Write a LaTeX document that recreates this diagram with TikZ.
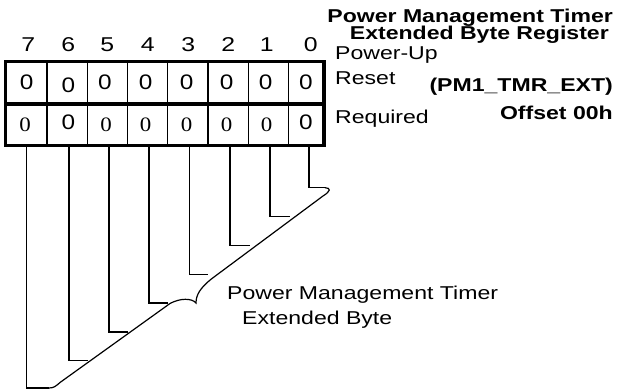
\documentclass[tikz,border=0pt]{standalone}
\usepackage{fontspec}
\newfontfamily\lsans{Liberation Sans}[FakeStretch=1.24]
\newfontfamily\lserif{Liberation Serif}[FakeStretch=1.12]
\newfontfamily\lsanscell{Liberation Sans}[FakeStretch=1.16]
\begin{document}
\begin{tikzpicture}[x=1pt,y=-1pt,
  thickline/.style={line width=3.2pt},
  thinline/.style={line width=1.2pt},
  lbl/.style={inner sep=0pt,font=\lsans\fontsize{18.6}{20}\selectfont},
  blbl/.style={inner sep=0pt,font=\lsans\bfseries\fontsize{18.6}{20}\selectfont},
  bitnum/.style={inner sep=0pt,anchor=base,font=\lsans\fontsize{20}{22}\selectfont},
  zs/.style={inner sep=0pt,anchor=base,font=\lsanscell\fontsize{21}{23}\selectfont},
  zr/.style={inner sep=0pt,anchor=base,font=\lserif\fontsize{20.5}{23}\selectfont}]
\useasboundingbox (0,0) rectangle (619,390);
% bit numbers
\foreach \x/\b in {28.3/7,68.3/6,107.3/5,147.7/4,188.3/3,228.3/2,266.7/1,310.7/0}
  \node[bitnum] (n\b) at (\x,51.7) {\b};
% cell dividers
\foreach \x in {47,87.3,127.7,167.7,208,248.3,288.7}
  \draw[thinline] (\x,61.7) -- (\x,145.7);
% box
\draw[thickline] (5.3,104) -- (324,104);
\draw[thickline] (5.3,61.7) rectangle (324,145.7);
% top row
\node[zs] (a7) at (26.7,89.5) {0};
\node[zs] (a6) at (68.3,92.6) {0};
\foreach \x/\b in {105/5,145.7/4,186.7/3,226.7/2,265.7/1,306/0}
  \node[zs] (a\b) at (\x,89.5) {0};
% bottom row
\node[zr] (r7) at (25,131.3) {0};
\node[zs] (r6) at (68.3,130) {0};
\foreach \x/\b in {106/5,145.7/4,186.7/3,226.7/2,266.7/1}
  \node[zr] (r\b) at (\x,131.3) {0};
\node[zs] (r0) at (306,130) {0};
% leader lines
\foreach \x/\y/\h/\b in {26.7/388/49/7,69/360.3/88.3/6,109/332/128.3/5,149/303/168.3/4,189.3/274.3/208.3/3,230/245.3/250/2,270/216.7/290/1,309/187.7/325/0}{
  \coordinate (t\b) at (\x,145.7);
  \coordinate (e\b) at (\h,\y);
  \draw[thinline] (t\b) |- (e\b);
}
% brace
\coordinate (cusp) at (196,303);
\draw[thinline] (e7) .. controls (54,388) and (56,386) .. (60,382.5)
  -- (170,303.5) .. controls (180,298) and (192,298) .. (cusp)
  .. controls (196,295) and (200,288) .. (212,278.5)
  -- (323,196) .. controls (331,191) and (331,188) .. (e0);
% right labels
\node[blbl,anchor=base east] (t1) at (613,22.7) {Power Management Timer};
\node[blbl,anchor=base east] (t2) at (609,40) {Extended Byte Register};
\node[lbl,anchor=base west] (pu) at (335,60) {Power-Up};
\node[lbl,anchor=base west] (rs) at (335,85) {Reset};
\node[blbl,anchor=base east] (pm) at (613,91.7) {(PM1\_TMR\_EXT)};
\node[lbl,anchor=base west] (rq) at (335,123.3) {Required};
\node[blbl,anchor=base east] (of) at (613,119.3) {Offset 00h};
% bottom label
\node[lbl,anchor=base west] (b1) at (227,300) {Power Management Timer};
\node[lbl,anchor=base west] (b2) at (242,325) {Extended Byte};
\end{tikzpicture}
\end{document}
